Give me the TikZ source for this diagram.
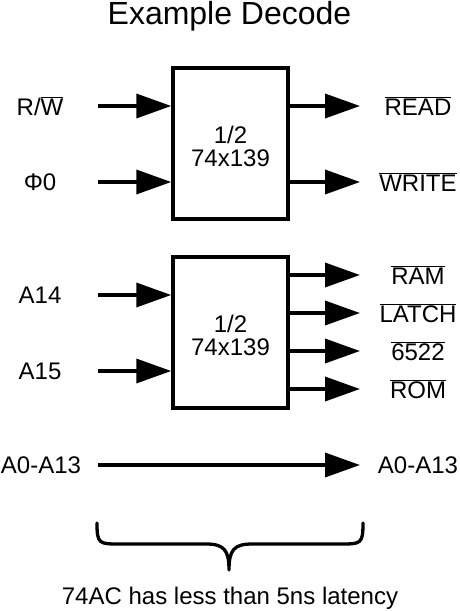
\documentclass[tikz,border=0pt]{standalone}
\usepackage{fontspec}
\setmainfont{Liberation Sans}
\usetikzlibrary{arrows.meta,positioning,calc}
\newcommand{\ovl}[1]{$\overline{\mbox{#1}}$}
\tikzset{
  chip/.style={rectangle, draw=black, line width=3.5pt, minimum width=115pt,
               minimum height=151pt},
  sig/.style={inner sep=0pt, align=center, font=\fontsize{24}{23}\selectfont},
  bus/.style={-{Triangle[length=35pt, width=24pt]}, line width=3.6pt, black},
  brace/.style={line width=3.3pt, line cap=round, line join=round},
  title/.style={inner sep=0pt, font=\fontsize{32}{34}\selectfont},
}
\begin{document}
\begin{tikzpicture}[x=1pt, y=-1pt]
\useasboundingbox (0,0) rectangle (459,611);
\node[title, anchor=base] (ttl) at (229.5,24) {Example Decode};
% upper decoder: read / write strobes
\node[chip] (dec1) at (230.5,143.5) {};
\node[sig] (dec1txt) at ([yshift=-3pt]dec1.center) {1/2\\74x139};
\foreach \y/\name/\txt in {106/rw/{R/\ovl{W}}, 182/phi/{Φ0}} {
  \coordinate (\name) at (98,\y);
  \node[sig] (\name lbl) at (40,\y) {\txt};
  \draw[bus] (\name) -- (\name -| dec1.west);
}
\foreach \y/\name/\txt in {106/rd/READ, 182/wr/WRITE} {
  \coordinate (\name) at (360,\y);
  \node[sig] (\name lbl) at (418,\y) {\ovl{\txt}};
  \draw[bus] (\name -| dec1.east) -- (\name);
}
% lower decoder: chip selects
\node[chip] (dec2) at (230.5,332.5) {};
\node[sig] (dec2txt) at ([yshift=-3pt]dec2.center) {1/2\\74x139};
\foreach \y/\name/\txt in {295/afourteen/A14, 371/afifteen/A15} {
  \coordinate (\name) at (98,\y);
  \node[sig] (\name lbl) at (40,\y) {\txt};
  \draw[bus] (\name) -- (\name -| dec2.west);
}
\foreach \y/\name/\txt in {275/ram/RAM, 313/latch/LATCH, 351/via/6522, 389/rom/ROM} {
  \coordinate (\name) at (360,\y);
  \node[sig] (\name lbl) at (418,\y) {\ovl{\txt}};
  \draw[bus] (\name -| dec2.east) -- (\name);
}
% address lines pass straight through
\node[sig] (addrin) at (41,465) {A0-A13};
\node[sig] (addrout) at (418,465) {A0-A13};
\coordinate (addra) at (98,465);
\coordinate (addrb) at (360,465);
\draw[bus] (addra) -- (addrb);
% latency brace
\draw[brace] (97,523) .. controls (97,544) and (99,544) .. (120,544) -- (206,544)
  .. controls (224,544) and (229,550) .. (229,570)
  .. controls (229,550) and (234,544) .. (252,544) -- (340,544)
  .. controls (361,544) and (363,544) .. (363,523);
\node[sig] (note) at (230,598) {74AC has less than 5ns latency};
\end{tikzpicture}
\end{document}
